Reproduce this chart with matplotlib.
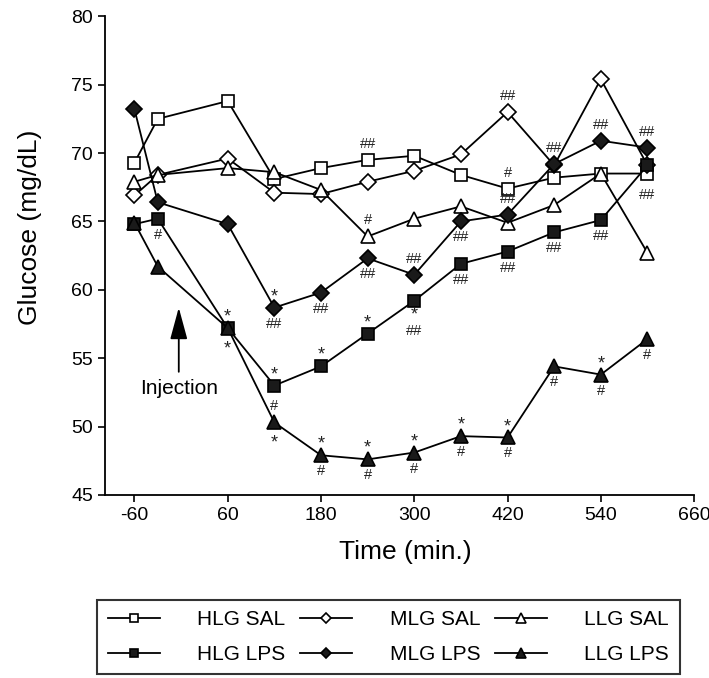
import matplotlib.pyplot as plt

plt.rcParams['font.family'] = ['Liberation Sans', 'DejaVu Sans']
plt.rcParams['axes.unicode_minus'] = False

# sampling times (min) and glucose (mg/dL)
time_min = [-60, -30, 60, 120, 180, 240, 300, 360, 420, 480, 540, 600]

hlg_sal = [69.3, 72.5, 73.8, 68.1, 68.9, 69.5, 69.8, 68.4, 67.4, 68.2, 68.5, 68.5]
mlg_sal = [66.9, 68.4, 69.6, 67.1, 67.0, 67.9, 68.7, 69.9, 73.0, 69.1, 75.4, 69.1]
llg_sal = [67.9, 68.4, 68.9, 68.6, 67.3, 63.9, 65.2, 66.1, 64.9, 66.2, 68.5, 62.7]
hlg_lps = [64.8, 65.2, 57.2, 53.0, 54.4, 56.8, 59.2, 61.9, 62.8, 64.2, 65.1, 69.1]
mlg_lps = [73.2, 66.4, 64.8, 58.7, 59.8, 62.3, 61.1, 65.0, 65.5, 69.2, 70.9, 70.4]
llg_lps = [64.9, 61.7, 57.2, 50.3, 47.9, 47.6, 48.1, 49.3, 49.2, 54.4, 53.8, 56.4]

series = {
    'HLG SAL': hlg_sal, 'HLG LPS': hlg_lps,
    'MLG SAL': mlg_sal, 'MLG LPS': mlg_lps,
    'LLG SAL': llg_sal, 'LLG LPS': llg_lps,
}

# significance marks: (series, time, symbol, side)
sig_marks = [
    ('HLG LPS', -30, '#', 'below'),
    ('HLG LPS', 60, '*', 'above'),
    ('LLG LPS', 60, '*', 'below'),
    ('HLG LPS', 120, '*', 'above'),
    ('LLG LPS', 120, '#', 'above'),
    ('LLG LPS', 120, '*', 'below'),
    ('MLG LPS', 120, '*', 'above'),
    ('MLG LPS', 120, '##', 'below'),
    ('HLG LPS', 180, '*', 'above'),
    ('LLG LPS', 180, '*', 'above'),
    ('LLG LPS', 180, '#', 'below'),
    ('MLG LPS', 180, '##', 'below'),
    ('HLG LPS', 240, '*', 'above'),
    ('LLG LPS', 240, '*', 'above'),
    ('LLG LPS', 240, '#', 'below'),
    ('MLG LPS', 240, '##', 'below'),
    ('LLG SAL', 240, '#', 'above'),
    ('HLG SAL', 240, '##', 'above'),
    ('HLG LPS', 300, '*', 'near'),
    ('HLG LPS', 300, '##', 'below2'),
    ('LLG LPS', 300, '*', 'above'),
    ('LLG LPS', 300, '#', 'below'),
    ('MLG LPS', 300, '##', 'above'),
    ('LLG LPS', 360, '*', 'above'),
    ('LLG LPS', 360, '#', 'below'),
    ('HLG LPS', 360, '##', 'below'),
    ('MLG LPS', 360, '##', 'below'),
    ('MLG SAL', 420, '##', 'above'),
    ('HLG SAL', 420, '#', 'above'),
    ('MLG LPS', 420, '##', 'above'),
    ('LLG LPS', 420, '*', 'above'),
    ('LLG LPS', 420, '#', 'below'),
    ('HLG LPS', 420, '##', 'below'),
    ('MLG LPS', 480, '##', 'above'),
    ('HLG LPS', 480, '##', 'below'),
    ('LLG LPS', 480, '#', 'below'),
    ('MLG LPS', 540, '##', 'above'),
    ('HLG LPS', 540, '##', 'below'),
    ('LLG LPS', 540, '*', 'above'),
    ('LLG LPS', 540, '#', 'below'),
    ('MLG LPS', 600, '##', 'above'),
    ('HLG LPS', 600, '##', 'below2'),
    ('LLG LPS', 600, '#', 'below'),
]

styles = {
    'HLG SAL': dict(marker='s', ms=9, mfc='white', zorder=2),
    'MLG SAL': dict(marker='D', ms=8, mfc='white', zorder=2),
    'LLG SAL': dict(marker='^', ms=10, mfc='white', zorder=2),
    'HLG LPS': dict(marker='s', ms=9, mfc='#1a1a1a', zorder=3),
    'MLG LPS': dict(marker='D', ms=8, mfc='#1a1a1a', zorder=3),
    'LLG LPS': dict(marker='^', ms=10, mfc='#1a1a1a', zorder=3),
}
offsets = {'above': 16, 'below': -16, 'near': -9, 'below2': -30}

fig = plt.figure(figsize=(7.09, 6.78), dpi=100)
ax = fig.add_axes([0.148, 0.270, 0.831, 0.706])

for name, vals in series.items():
    ax.plot(time_min, vals, color='black', lw=1.3, mec='black', mew=1.2,
            label=name, **styles[name])

for name, t, sym, side in sig_marks:
    v = series[name][time_min.index(t)]
    fs = 13 if sym == '*' else 10.5
    dy = offsets[side] - (5 if sym == '*' else 0)
    ax.annotate(sym, xy=(t, v), xytext=(0, dy), textcoords='offset pixels',
                ha='center', va='center', fontsize=fs, color='#222222')

# injection arrow
ax.annotate('', xy=(-3, 58.9), xytext=(-3, 53.8),
            arrowprops=dict(arrowstyle='-|>,head_length=1.4,head_width=0.38',
                            color='black', lw=1.3, mutation_scale=14))
ax.text(-3, 52.8, 'Injection', ha='center', va='center', fontsize=15)

ax.set_xlim(-98, 660)
ax.set_ylim(45, 80)
ax.set_xticks([-60, 60, 180, 300, 420, 540, 660])
ax.set_yticks(range(45, 81, 5))
ax.spines['top'].set_visible(False)
ax.spines['right'].set_visible(False)
for s in ('left', 'bottom'):
    ax.spines[s].set_linewidth(1.3)
ax.tick_params(direction='out', length=5, width=1.2, labelsize=14)
ax.set_xlabel('Time (min.)', fontsize=19)
ax.xaxis.set_label_coords(0.51, -0.095)
ax.set_ylabel('Glucose (mg/dL)', fontsize=19)
ax.yaxis.set_label_coords(-0.107, 0.56)

leg = fig.legend(ncol=3, loc='upper left', bbox_to_anchor=(0.137, 0.115),
                 fontsize=15, frameon=True, fancybox=False, edgecolor='black',
                 handlelength=2.5, handletextpad=1.8, columnspacing=0.7,
                 labelspacing=0.75, borderpad=0.5, markerscale=0.7,
                 borderaxespad=0)
leg.get_frame().set_linewidth(1.5)

fig.savefig('out.png', dpi=100)
